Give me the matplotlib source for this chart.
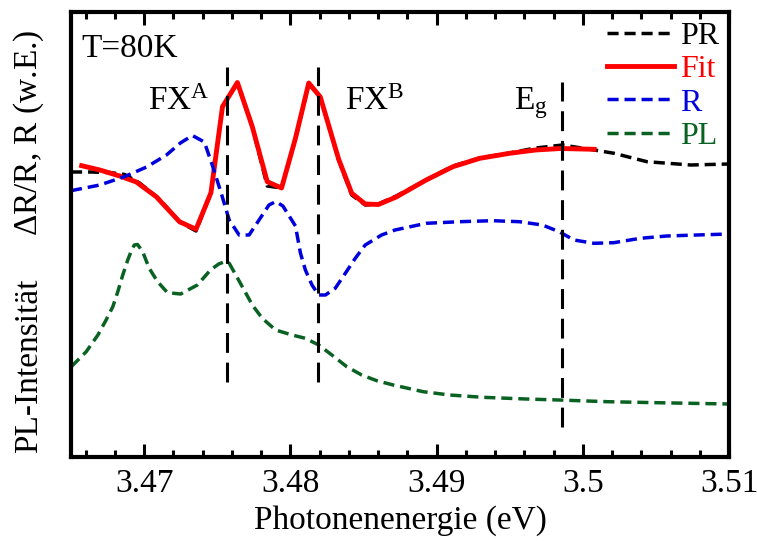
import matplotlib
matplotlib.use('Agg')
import matplotlib.pyplot as plt
from matplotlib.ticker import MultipleLocator

# Photon energy (eV) and signals in arbitrary units
fit_e = [3.46573, 3.46697, 3.46833, 3.46947, 3.47083, 3.47242, 3.47355, 3.47457, 3.47536, 3.47638,
         3.47740, 3.47842, 3.47940, 3.48035, 3.48126, 3.48205, 3.48330, 3.48420, 3.48512, 3.48602,
         3.48724, 3.48929, 3.49112, 3.49296, 3.49500, 3.49677, 3.49847, 3.50078]
fit_y = [291.3, 287.0, 281.0, 275.0, 260.3, 235.3, 227.7, 264.3, 350.3, 374.5,
         330.3, 275.3, 269.0, 318.7, 374.0, 360.0, 298.0, 263.7, 253.0, 252.5,
         260.0, 277.0, 290.3, 298.7, 303.7, 307.0, 308.5, 307.7]

pr_e = [3.46500, 3.46629, 3.46765, 3.46867, 3.46969, 3.47105, 3.47242, 3.47355, 3.47457, 3.47536,
        3.47638, 3.47740, 3.47842, 3.47940, 3.48035, 3.48126, 3.48205, 3.48330, 3.48420, 3.48512,
        3.48602, 3.48724, 3.48929, 3.49112, 3.49296, 3.49500, 3.49677, 3.49759, 3.49861, 3.50078,
        3.50214, 3.50439, 3.50738, 3.51000]
pr_y = [285.0, 285.0, 284.5, 282.5, 274.0, 258.0, 235.0, 226.0, 264.0, 350.0,
        374.0, 330.0, 271.0, 269.0, 318.0, 373.0, 360.0, 297.0, 262.0, 252.0,
        253.0, 261.0, 277.0, 291.0, 299.0, 304.0, 309.0, 310.3, 312.0, 307.0,
        303.7, 295.3, 292.0, 293.0]

r_e = [3.46500, 3.46697, 3.46865, 3.47017, 3.47153, 3.47248, 3.47330, 3.47412, 3.47473, 3.47531,
       3.47582, 3.47650, 3.47718, 3.47786, 3.47854, 3.47901, 3.47949, 3.48035, 3.48069, 3.48103,
       3.48148, 3.48194, 3.48240, 3.48307, 3.48376, 3.48444, 3.48512, 3.48624, 3.48716, 3.48929,
       3.49158, 3.49384, 3.49566, 3.49724, 3.49838, 3.49940, 3.50076, 3.50212, 3.50393, 3.50575,
       3.50779, 3.51000]
r_y = [266.3, 272.0, 280.3, 290.0, 302.0, 314.0, 321.5, 315.0, 289.0, 262.0,
       237.0, 222.0, 222.0, 237.0, 252.0, 255.5, 251.0, 231.0, 204.0, 187.0,
       172.0, 162.0, 162.0, 168.7, 183.7, 198.7, 212.0, 222.0, 227.0, 233.7,
       235.3, 236.3, 235.3, 232.0, 225.3, 217.0, 213.7, 214.3, 218.7, 221.0,
       222.0, 223.0]

pl_e = [3.46502, 3.46604, 3.46684, 3.46740, 3.46786, 3.46820, 3.46854, 3.46888, 3.46915, 3.46933,
        3.46955, 3.46990, 3.47035, 3.47092, 3.47160, 3.47250, 3.47364, 3.47454, 3.47510, 3.47546,
        3.47582, 3.47627, 3.47684, 3.47740, 3.47808, 3.47899, 3.48012, 3.48103, 3.48194, 3.48284,
        3.48386, 3.48488, 3.48591, 3.48704, 3.48908, 3.49090, 3.49316, 3.49611, 3.49838, 3.50167,
        3.50507, 3.51000]
pl_y = [90.3, 105.3, 122.0, 137.0, 150.3, 165.3, 182.0, 197.0, 207.0, 212.0,
        212.5, 205.3, 188.7, 175.3, 164.3, 163.0, 172.0, 187.0, 193.0, 195.0,
        193.7, 182.0, 167.0, 152.0, 138.7, 127.0, 122.0, 118.7, 112.0, 102.0,
        90.3, 82.0, 76.3, 72.0, 65.3, 62.0, 59.7, 58.0, 57.0, 55.3,
        54.3, 53.0]

# marker lines: energy, lower and upper end
mark_e = [3.4757, 3.4819, 3.4986]
mark_lo = [75, 75, 30]
mark_hi = [390, 390, 375]

plt.rcParams['font.family'] = 'Liberation Serif'
plt.rcParams['mathtext.fontset'] = 'custom'
plt.rcParams['mathtext.rm'] = 'Liberation Serif'
plt.rcParams['mathtext.it'] = 'Liberation Serif:italic'
plt.rcParams['font.size'] = 24

fig = plt.figure(figsize=(7.57, 5.41), dpi=100)
ax = fig.add_axes([71 / 757, 1 - 457 / 541, 658 / 757, 445 / 541])

dash = (0, (3.2, 1.7))
ax.plot(pr_e, pr_y, color='black', lw=2.5, ls=dash, label='PR')
ax.plot(fit_e, fit_y, color='#ff0000', lw=3.5, label='Fit')
ax.plot(r_e, r_y, color='#0000dd', lw=2.5, ls=dash, label='R')
ax.plot(pl_e, pl_y, color='#0a6222', lw=2.5, ls=dash, label='PL')

for e, lo, hi in zip(mark_e, mark_lo, mark_hi):
    ax.plot([e, e], [lo, hi], color='black', lw=2.2, ls=(0, (6.5, 3.2)))

ax.text(3.47024, 347, r'FX$^{\mathrm{A}}$', fontsize=24)
ax.text(3.48376, 347, r'FX$^{\mathrm{B}}$', fontsize=24)
ax.text(3.49532, 348, r'E$_{\mathrm{g}}$', fontsize=24)
ax.text(3.46573, 400, 'T=80K', fontsize=24)

ax.set_xlim(3.465, 3.51)
ax.set_ylim(0, 445)
ax.set_xticks([3.47, 3.48, 3.49, 3.5, 3.51])
ax.set_xticklabels(['3.47', '3.48', '3.49', '3.5', '3.51'])
ax.xaxis.set_minor_locator(MultipleLocator(0.002))
ax.set_yticks([])
ax.tick_params(axis='x', which='both', direction='in', top=True, width=2.2, pad=8)
ax.tick_params(axis='x', which='major', length=9.5)
ax.tick_params(axis='x', which='minor', length=5)
for s in ax.spines.values():
    s.set_linewidth(3)
ax.set_xlabel('Photonenenergie (eV)', labelpad=5)

fig.text(29 / 757, 1 - 133 / 541, r'$\Delta$R/R, R (w.E.)', rotation=90, ha='center', va='center')
fig.text(29 / 757, 1 - 366 / 541, 'PL-Intensität', rotation=90, ha='center', va='center')

ax.legend(loc='upper left', bbox_to_anchor=((607 - 71) / 658, 0.978), frameon=False,
          fontsize=23, handlelength=2.1, handletextpad=0.2, labelspacing=0.12,
          borderpad=0, borderaxespad=0, labelcolor='linecolor')

plt.savefig('out.png', dpi=100)
